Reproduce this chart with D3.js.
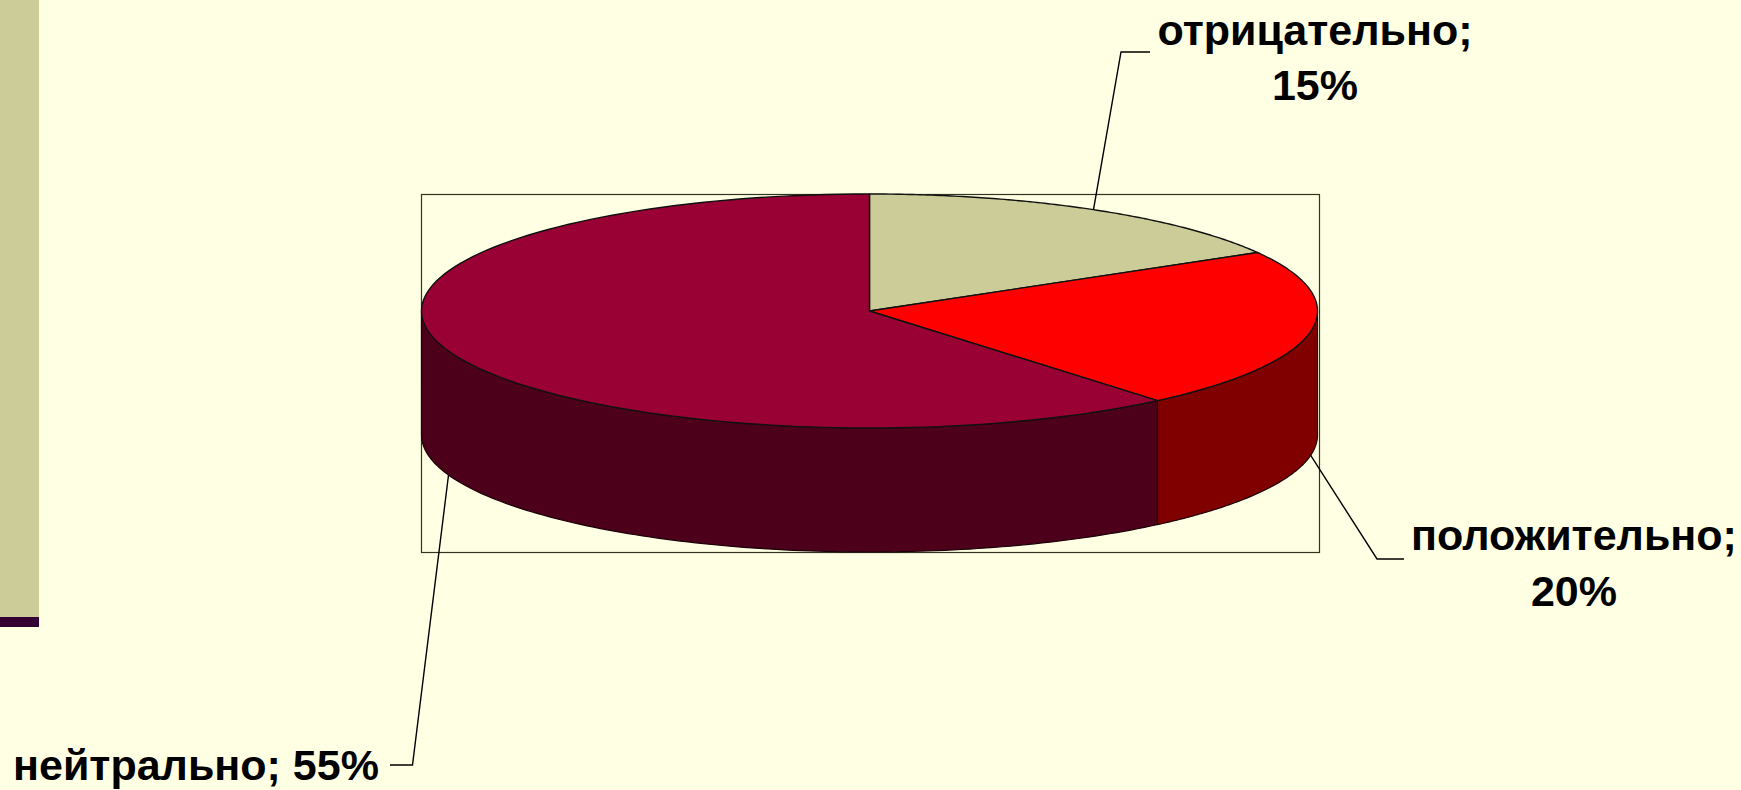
<!DOCTYPE html>
<html>
<head>
<meta charset="utf-8">
<script src="https://d3js.org/d3.v7.min.js"></script>
<style>
  html, body { margin: 0; padding: 0; background: #ffffe3; overflow: hidden; }
  text { font-family: "Liberation Sans", Arial, sans-serif; font-weight: bold; fill: #000; }
</style>
</head>
<body>
<div class="piechart"></div>
<script>
// data
const categories = ["отрицательно", "положительно", "нейтрально"];
const values = [15, 20, 55];
const topColors = ["#cccc99", "#ff0000", "#990033"];
const sideColors = ["#66664c", "#800000", "#4d0019"];

const WIDTH = 1741;
const HEIGHT = 790;

// plot box and the flattened pie inside it
const BOX = { left: 421, right: 1319, top: 194, bottom: 552 };
const DEPTH = 124;
const CX = 869.5;
const CY = 311;
const RX = 448;
const RY = CY - BOX.top;

// label layout: lines of text, leader elbow and leader end
const LABELS = [
  { lines: ["отрицательно;", "15%"], x: 1315, y: [45, 100], elbow: [1121, 52], end: [1150, 52], side: false },
  { lines: ["положительно;", "20%"], x: 1574, y: [550, 606], elbow: [1377, 559], end: [1404, 559], side: true },
  { lines: ["нейтрально; 55%"], x: 196, y: [780], elbow: [412.5, 765], end: [390, 765], side: true },
];

var svg = d3
  .select(".piechart")
  .append("svg")
  .attr("width", WIDTH)
  .attr("height", HEIGHT)
  .style("display", "block");

// slide decoration on the left
svg.append("rect").attr("x", 0).attr("y", 0).attr("width", 39).attr("height", 617).attr("fill", "#cccc99");
svg.append("rect").attr("x", 0).attr("y", 617).attr("width", 39).attr("height", 10).attr("fill", "#330033");

// plot area frame
svg
  .append("rect")
  .attr("x", BOX.left + 0.5)
  .attr("y", BOX.top + 0.5)
  .attr("width", BOX.right - BOX.left)
  .attr("height", BOX.bottom - BOX.top)
  .attr("fill", "none")
  .attr("stroke", "#333322")
  .attr("stroke-width", 1.2);

const pie = d3.pie().sort(null).value((d) => d);
const slices = pie(values);

// ellipse position for a pie angle (0 = top, clockwise)
const ex = (a) => CX + RX * Math.sin(a);
const ey = (a) => CY - RY * Math.cos(a);

const arcPoints = (a0, a1, dy) =>
  d3.range(0, 121).map((i) => {
    const a = a0 + ((a1 - a0) * i) / 120;
    return [ex(a), ey(a) + dy];
  });

const line = d3.line();

// side wall, only the front half of the rim shows
slices.forEach(function (d, i) {
  const a0 = Math.max(d.startAngle, Math.PI / 2);
  const a1 = Math.min(d.endAngle, (Math.PI * 3) / 2);
  if (a0 >= a1) return;
  const pts = arcPoints(a0, a1, 0).concat(arcPoints(a0, a1, DEPTH).reverse());
  svg
    .append("path")
    .attr("d", line(pts) + "Z")
    .attr("fill", sideColors[i])
    .attr("stroke", "#1a0008")
    .attr("stroke-width", 1.2);
});

// top face
slices.forEach(function (d, i) {
  const pts = [[CX, CY]].concat(arcPoints(d.startAngle, d.endAngle, 0));
  svg
    .append("path")
    .attr("d", line(pts) + "Z")
    .attr("fill", topColors[i])
    .attr("stroke", "#111")
    .attr("stroke-width", 1.4);
});

// leaders and labels
slices.forEach(function (d, i) {
  const lab = LABELS[i];
  const mid = (d.startAngle + d.endAngle) / 2;
  const start = [ex(mid), ey(mid) + (lab.side ? DEPTH : 0)];
  svg
    .append("path")
    .attr("d", line([start, lab.elbow, lab.end]))
    .attr("fill", "none")
    .attr("stroke", "#000")
    .attr("stroke-width", 1.4);

  lab.lines.forEach(function (t, j) {
    svg
      .append("text")
      .attr("x", lab.x)
      .attr("y", lab.y[j])
      .attr("text-anchor", "middle")
      .attr("font-size", 43)
      .text(t);
  });
});
</script>
</body>
</html>
